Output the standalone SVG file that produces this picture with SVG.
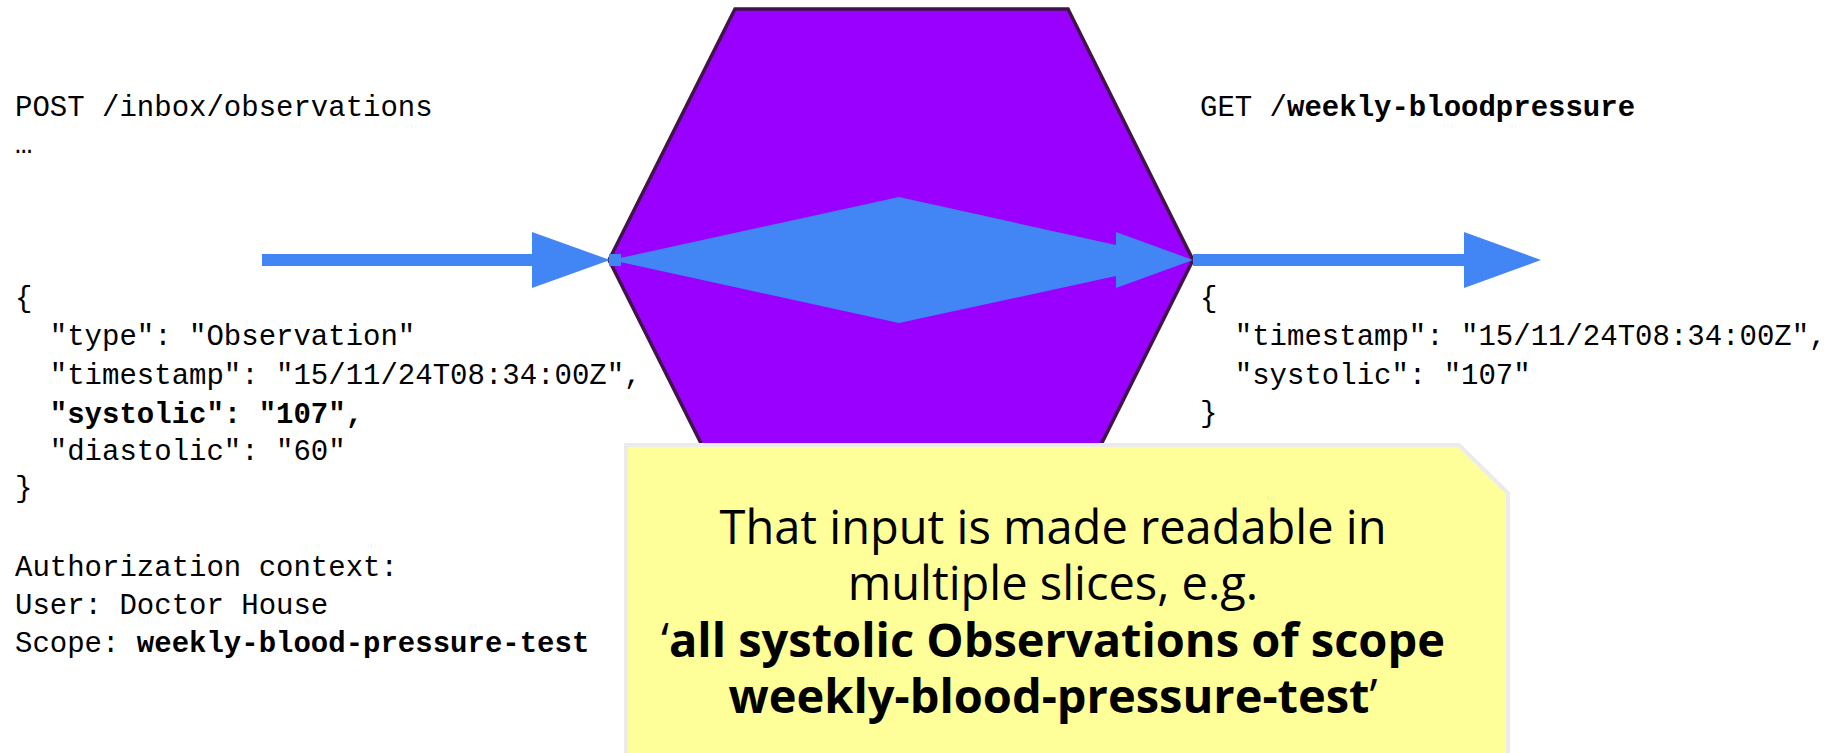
<svg xmlns="http://www.w3.org/2000/svg" width="1837" height="753" viewBox="0 0 1837 753">
<style>
.mono{font-family:"Liberation Mono","DejaVu Sans Mono",monospace;font-size:29px;fill:#000}
.b{font-weight:bold}
.note{font-family:"Open Sans","Noto Sans",sans-serif;font-size:47px;fill:#000;text-anchor:middle}
.blue{fill:#4285f4}
</style>
<rect width="1837" height="753" fill="#fff"/>
<g id="hexagon">
<polygon points="609,260 735,9 1068,9 1193,260 1068,511 735,511" fill="#9900ff" stroke="#3f1446" stroke-width="3.5" stroke-linejoin="miter"/>
</g>
<g id="connectors">
<rect class="blue" x="262" y="254" width="272" height="12"/>
<polygon class="blue" points="532,232 610,260 532,288"/>
<polygon class="blue" points="611,260 899,197 1116,245 1116,232 1193,260 1116,288 1116,276 899,323"/>
<rect class="blue" x="609" y="254" width="12" height="12"/>
<rect class="blue" x="1193" y="254" width="273" height="12"/>
<polygon class="blue" points="1464,232 1541,260 1464,288"/>
</g>
<g id="input-text">
<text class="mono" x="15" y="116">POST /inbox/observations</text>
<text class="mono" x="15" y="153">…</text>
<text class="mono" x="15" y="307">{</text>
<text class="mono" x="15" y="345" xml:space="preserve">  "type": "Observation"</text>
<text class="mono" x="15" y="384" xml:space="preserve">  "timestamp": "15/11/24T08:34:00Z",</text>
<text class="mono b" x="15" y="423" xml:space="preserve">  "systolic": "107",</text>
<text class="mono" x="15" y="460" xml:space="preserve">  "diastolic": "60"</text>
<text class="mono" x="15" y="497">}</text>
<text class="mono" x="15" y="576">Authorization context:</text>
<text class="mono" x="15" y="614">User: Doctor House</text>
<text class="mono" x="15" y="652">Scope: <tspan class="b">weekly-blood-pressure-test</tspan></text>
</g>
<g id="output-text">
<text class="mono" x="1200" y="116">GET /<tspan class="b">weekly-bloodpressure</tspan></text>
<text class="mono" x="1200" y="307">{</text>
<text class="mono" x="1200" y="345" xml:space="preserve">  "timestamp": "15/11/24T08:34:00Z",</text>
<text class="mono" x="1200" y="384" xml:space="preserve">  "systolic": "107"</text>
<text class="mono" x="1200" y="422">}</text>
</g>
<g id="note">
<polygon points="626,445 1459,445 1508,493 1508,760 626,760" fill="#ffff99" stroke="#ebebeb" stroke-width="4"/>
<text class="note" x="1053" y="544">That input is made readable in</text>
<text class="note" x="1053" y="600">multiple slices, e.g.</text>
<text class="note" x="1053" y="657">‘<tspan font-weight="bold">all systolic Observations of scope</tspan></text>
<text class="note" x="1053" y="713"><tspan font-weight="bold">weekly-blood-pressure-test</tspan>’</text>
</g>
</svg>
